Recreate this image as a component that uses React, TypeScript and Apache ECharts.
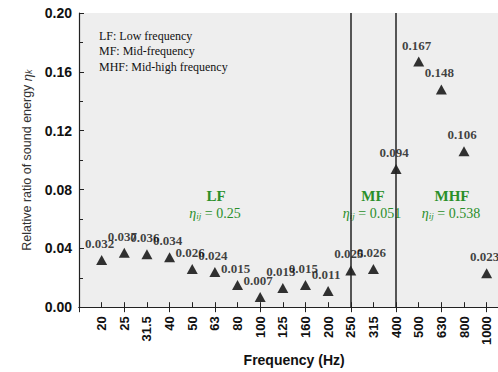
import React, { useEffect, useRef } from "react";
import * as echarts from "echarts";

const categories = ["20", "25", "31.5", "40", "50", "63", "80", "100", "125", "160", "200", "250", "315", "400", "500", "630", "800", "1000"];
const ratios = [0.032, 0.037, 0.036, 0.034, 0.026, 0.024, 0.015, 0.007, 0.013, 0.015, 0.011, 0.025, 0.026, 0.094, 0.167, 0.148, 0.106, 0.023];
const boundaries = ["250", "400"];
const yTicks = [0, 0.04, 0.08, 0.12, 0.16, 0.2];
const noteLines = ["LF: Low frequency", "MF: Mid-frequency", "MHF: Mid-high frequency"];
const regionNames = ["LF", "MF", "MHF"];
const regionEta = ["0.25", "0.051", "0.538"];
const regionX = [216, 373, 452];

const GREEN = "#2a8f2a";
const SERIF = '"Liberation Serif", "Times New Roman", serif';
const SANS = '"Liberation Sans", Arial, sans-serif';

const CHART_W = 520;

export default function App() {
  const ref = useRef<HTMLDivElement>(null);
  useEffect(() => {
    if (!ref.current) return;
    const chart = echarts.init(ref.current, null, { renderer: "svg" });
    const axisCats = ["", ...categories, ""];
    const data = categories.map((c, i) => [c, ratios[i]]);
    const graphic: any[] = [
      {
        type: "text",
        left: 99,
        top: 28,
        style: { text: noteLines.join("\n"), font: `12px ${SERIF}`, lineHeight: 15.5, fill: "#111" },
      },
    ];
    regionNames.forEach((n, i) => {
      graphic.push({
        type: "text",
        x: regionX[i],
        y: 196,
        style: { text: n, font: `bold 15px ${SERIF}`, fill: GREEN, align: "center", verticalAlign: "middle" },
      });
      graphic.push({
        type: "text",
        x: regionX[i] - 1,
        y: 213,
        style: {
          text: `{e|η}{s|ij}{n| = ${regionEta[i]}}`,
          align: "center",
          verticalAlign: "middle",
          fill: GREEN,
          rich: {
            e: { fontFamily: SERIF, fontSize: 14, fontStyle: "italic", fill: GREEN, color: GREEN },
            s: { fontFamily: SERIF, fontSize: 9, fontStyle: "italic", fill: GREEN, color: GREEN, padding: [5, 0, 0, 0] },
            n: { fontFamily: SERIF, fontSize: 14, fill: GREEN, color: GREEN },
          },
        },
      });
    });
    chart.setOption({
      animation: false,
      backgroundColor: "#ffffff",
      grid: {
        left: 79,
        top: 13,
        bottom: 64,
        right: CHART_W - 79 - 430.3,
        show: true,
        backgroundColor: "#eeeeee",
        borderWidth: 0,
      },
      xAxis: [
        {
          type: "category",
          data: axisCats,
          boundaryGap: false,
          name: "Frequency (Hz)",
          nameLocation: "middle",
          nameGap: 43,
          nameTextStyle: { fontFamily: SANS, fontWeight: "bold", fontSize: 14, color: "#111" },
          axisLine: { lineStyle: { color: "#222", width: 1.2 } },
          axisTick: { inside: true, length: 5, alignWithLabel: true, lineStyle: { color: "#222" } },
          axisLabel: {
            rotate: 90,
            margin: 9,
            fontFamily: SANS,
            fontWeight: "bold",
            fontSize: 13,
            color: "#111",
            interval: 0,
          },
          splitLine: { show: false },
        },
        {
          type: "category",
          data: axisCats,
          boundaryGap: false,
          position: "top",
          axisLine: { lineStyle: { color: "#222", width: 1.2 } },
          axisTick: { inside: true, length: 5, lineStyle: { color: "#222" } },
          axisLabel: { show: false },
          splitLine: { show: false },
        },
      ],
      yAxis: [
        {
          type: "value",
          min: yTicks[0],
          max: yTicks[yTicks.length - 1],
          interval: 0.04,
          name: "Relative ratio of sound energy {e|η}{k|k}",
          nameLocation: "middle",
          nameGap: 45,
          nameTextStyle: {
            fontFamily: SANS,
            fontSize: 12.5,
            color: "#333",
            rich: {
              e: { fontFamily: SANS, fontSize: 13, fontStyle: "italic", color: "#333" },
              k: { fontFamily: SANS, fontSize: 9, fontStyle: "italic", color: "#333", padding: [4, 0, 0, 0] },
            },
          },
          axisLine: { show: true, lineStyle: { color: "#222", width: 1.2 } },
          axisTick: { show: true, inside: true, length: 5, lineStyle: { color: "#222" } },
          minorTick: { show: true, splitNumber: 2, length: 4, lineStyle: { color: "#222" } },
          axisLabel: {
            margin: 7,
            fontFamily: SANS,
            fontWeight: "bold",
            fontSize: 14,
            color: "#111",
            formatter: (v: number) => v.toFixed(2),
          },
          splitLine: { show: false },
        },
        {
          type: "value",
          min: yTicks[0],
          max: yTicks[yTicks.length - 1],
          interval: 0.04,
          position: "right",
          axisLine: { show: true, lineStyle: { color: "#222" } },
          axisTick: { show: false },
          axisLabel: { show: false },
          splitLine: { show: false },
        },
      ],
      graphic,
      series: [
        {
          type: "scatter",
          data,
          symbol: "triangle",
          symbolSize: [11, 10],
          itemStyle: { color: "#000" },
          label: {
            show: true,
            position: "top",
            distance: 5,
            offset: [-2, 0],
            fontFamily: SERIF,
            fontWeight: "bold",
            fontSize: 13,
            color: "#111",
            formatter: (p: any) => p.value[1].toFixed(3),
          },
          markLine: {
            silent: true,
            symbol: ["none", "none"],
            label: { show: false },
            lineStyle: { color: "#222", width: 1.5, type: "solid" },
            data: boundaries.map((b) => ({ xAxis: b })),
          },
        },
      ],
    });
    return () => chart.dispose();
  }, []);
  return (
    <div style={{ position: "fixed", left: 0, top: 0, width: 498, height: 372, overflow: "hidden", background: "#fff" }}>
      <div ref={ref} style={{ width: CHART_W, height: 372 }} />
    </div>
  );
}
